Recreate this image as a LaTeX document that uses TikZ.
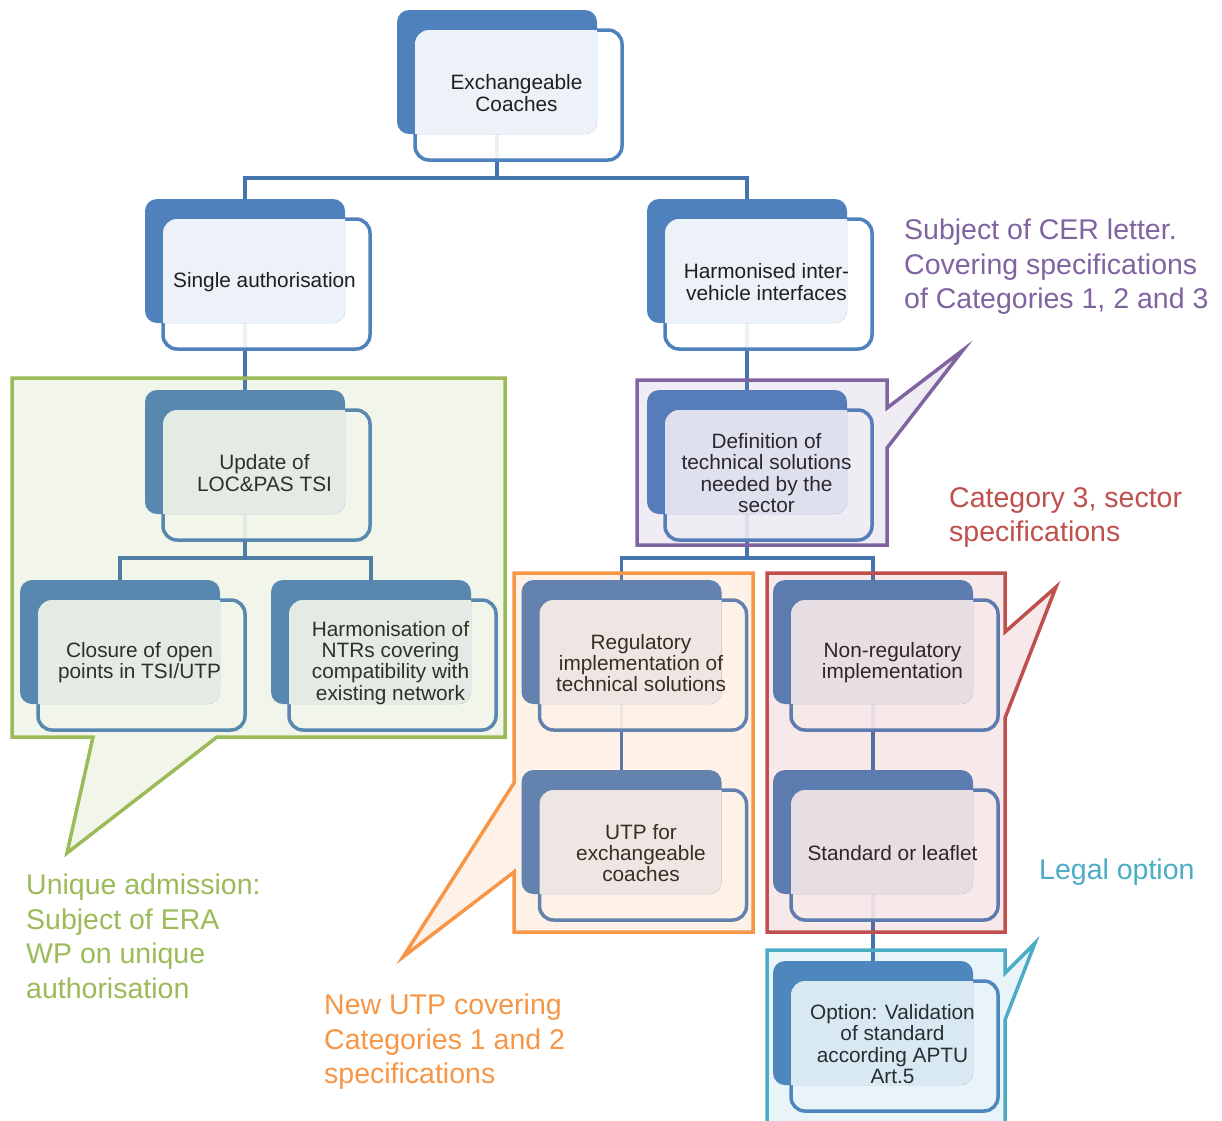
\documentclass[tikz,border=0pt]{standalone}
\usepackage{fontspec}
\setmainfont{Liberation Sans}
\usetikzlibrary{calc}
\definecolor{boxblue}{HTML}{4F81BD}
\definecolor{linkblue}{HTML}{4474AE}
\definecolor{eragreen}{HTML}{9BBB59}
\definecolor{cerpurple}{HTML}{8064A2}
\definecolor{utporange}{HTML}{F79646}
\definecolor{secred}{HTML}{C0504D}
\definecolor{legalcyan}{HTML}{4BACC6}
\pgfdeclarelayer{paper}
\pgfdeclarelayer{background}
\pgfsetlayers{paper,background,main}
\tikzset{
  backbox/.style={fill=boxblue, rounded corners=12pt, minimum width=200pt, minimum height=124pt, inner sep=0pt, outer sep=0pt},
  frontbox/.style={draw=boxblue, line width=3.5pt, fill=white, fill opacity=0.9, rounded corners=14pt, minimum width=207pt, minimum height=130pt, inner sep=0pt, outer sep=0pt},
  veil/.style={fill=white, fill opacity=0.9},
  boxtext/.style={align=center, text=black!88, font=\fontsize{20.8}{21.2}\selectfont, inner sep=0pt},
  link/.style={draw=linkblue, line width=3.5pt},
  callout/.style={line width=3.5pt, line join=miter, fill opacity=0.12},
  note/.style={align=left, anchor=north west, inner sep=0pt, font=\fontsize{28.5}{34.5}\selectfont},
}
% front box, shadow box behind it, and the pale overlap
\newcommand{\coachbox}[4]{%
  \node[frontbox] (#1) at (#2,#3) {};
  \node[backbox] (#1-b) at (#2-21.5,#3-23) {};
  \begin{scope}
    \clip[rounded corners=14pt] (#1.south west) rectangle (#1.north east);
    \fill[veil, rounded corners=12pt] (#1-b.south west) rectangle (#1-b.north east);
  \end{scope}
  \node[boxtext] (#1-t) at ($(#1)+(-2,-2)$) {#4};
}

\begin{document}
\begin{tikzpicture}[x=1pt, y=-1pt]
\clip (0,0) rectangle (1222,1120);
\begin{pgfonlayer}{paper}
\fill[white] (0,0) rectangle (1222,1120);
\end{pgfonlayer}

\coachbox{coaches}{518.5}{95}{Exchangeable\\Coaches}
\coachbox{single}{266.5}{284}{Single authorisation}
\coachbox{interfaces}{768.5}{284}{Harmonised inter-\\vehicle interfaces}
\coachbox{update}{266.5}{475}{Update of\\LOC\&PAS TSI}
\coachbox{definition}{768.5}{475}{Definition of\\technical solutions\\needed by the\\sector}
\coachbox{closure}{141.5}{665}{Closure of open\\points in TSI/UTP}
\coachbox{ntrs}{392.5}{665}{Harmonisation of\\NTRs covering\\compatibility with\\existing network}
\coachbox{regulatory}{643}{665}{Regulatory\\implementation of\\technical solutions}
\coachbox{nonreg}{894.5}{665}{Non-regulatory\\implementation}
\coachbox{utp}{643}{855}{UTP for\\exchangeable\\coaches}
\coachbox{standard}{894.5}{855}{Standard or leaflet}
\coachbox{option}{894.5}{1046}{Option: Validation\\of standard\\according APTU\\Art.5}

\begin{pgfonlayer}{background}
\draw[link] (coaches-b.south) -- ++(0,44) -| (single-b.north);
\draw[link] (coaches-b.south) -- ++(0,44) -| (interfaces-b.north);
\draw[link] (single-b.south) -- (update-b.north);
\draw[link] (interfaces-b.south) -- (definition-b.north);
\draw[link] (update-b.south) -- ++(0,44) -| (closure-b.north);
\draw[link] (update-b.south) -- ++(0,44) -| (ntrs-b.north);
\draw[link] (definition-b.south) -- ++(0,44) -| (regulatory-b.north);
\draw[link] (definition-b.south) -- ++(0,44) -| (nonreg-b.north);
\draw[link] (regulatory-b.south) -- (utp-b.north);
\draw[link] (nonreg-b.south) -- (standard-b.north);
\draw[link] (standard-b.south) -- (option-b.north);
\end{pgfonlayer}

% callouts
\draw[callout, draw=eragreen, fill=eragreen] (12,378) -- (505,378) -- (505,737) -- (217,737) -- (67,853) -- (93,737) -- (12,737) -- cycle;
\draw[callout, draw=cerpurple, fill=cerpurple] (637,380) -- (887,380) -- (887,408) -- (963,350) -- (887,448) -- (887,545) -- (637,545) -- cycle;
\draw[callout, draw=utporange, fill=utporange] (514,573) -- (753,573) -- (753,932) -- (514,932) -- (514,872) -- (403,957) -- (514,783) -- cycle;
\draw[callout, draw=secred, fill=secred] (767,573) -- (1005,573) -- (1005,632) -- (1056,587) -- (1005,718) -- (1005,932) -- (767,932) -- cycle;
\draw[callout, draw=legalcyan, fill=legalcyan] (767,950) -- (1005,950) -- (1005,973) -- (1035,943) -- (1005,1020) -- (1005,1135) -- (767,1135) -- cycle;

\node[note, text=eragreen] (era-note) at (26,874) {Unique admission:\\Subject of ERA\\WP on unique\\authorisation};
\node[note, text=cerpurple] (cer-note) at (904,219) {Subject of CER letter.\\Covering specifications\\of Categories 1, 2 and 3};
\node[note, text=secred] (sector-note) at (949,487) {Category 3, sector\\specifications};
\node[note, text=utporange] (utp-note) at (324,994) {New UTP covering\\Categories 1 and 2\\specifications};
\node[note, text=legalcyan] (legal-note) at (1039,859) {Legal option};
\end{tikzpicture}
\end{document}
